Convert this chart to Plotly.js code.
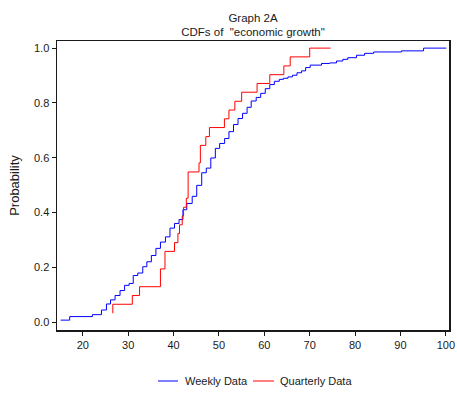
<!DOCTYPE html>
<html>
<head>
<meta charset="utf-8">
<script src="https://cdn.plot.ly/plotly-3.0.1.min.js"></script>
<style>html,body{margin:0;padding:0;background:#fff;}#chart{width:457px;height:394px;}</style>
</head>
<body>
<div id="chart"></div>
<script>
// Weekly data: empirical CDF step points (x = economic growth value, y = cumulative probability)
var weeklyX = [15.1, 17.1, 22.1, 24.1, 25.2, 26.1, 27.1, 28.2, 29.2, 30.2, 31.1, 32.1, 33.2, 34.1, 35.1, 36.1, 37.1, 38.2, 39.2, 40.2, 41.2, 42.05, 42.9, 44.1, 45.1, 46.2, 47.2, 48.2, 49.2, 50.15, 51.25, 52.2, 53.2, 54.2, 55.2, 56.2, 57.1, 58.2, 59.2, 60.2, 61.2, 62.2, 63.3, 64.2, 65.2, 66.2, 67.2, 68.2, 69.1, 70.1, 72.6, 74.4, 75.9, 77.3, 78.4, 80.3, 82.1, 84.1, 90.2, 95.1, 100.1];
var weeklyY = [0.007, 0.020, 0.027, 0.044, 0.066, 0.081, 0.097, 0.115, 0.134, 0.141, 0.170, 0.179, 0.202, 0.220, 0.243, 0.269, 0.292, 0.311, 0.343, 0.360, 0.374, 0.410, 0.433, 0.459, 0.499, 0.545, 0.562, 0.599, 0.634, 0.652, 0.670, 0.695, 0.721, 0.743, 0.762, 0.784, 0.807, 0.820, 0.835, 0.852, 0.867, 0.879, 0.886, 0.890, 0.895, 0.901, 0.910, 0.917, 0.929, 0.938, 0.944, 0.946, 0.953, 0.959, 0.965, 0.974, 0.981, 0.986, 0.990, 1.000, 1.000];

// Quarterly data: empirical CDF step points
var quarterlyX = [26.6, 26.6, 30.9, 32.5, 37.1, 38.1, 40.2, 40.95, 41.3, 41.9, 42.2, 42.8, 43.2, 45.6, 45.9, 47.1, 47.9, 51.2, 52.2, 53.5, 55.0, 58.4, 61.2, 64.3, 65.7, 70.0, 74.6];
var quarterlyY = [0.032, 0.065, 0.097, 0.129, 0.194, 0.258, 0.290, 0.323, 0.355, 0.387, 0.419, 0.452, 0.548, 0.581, 0.645, 0.677, 0.710, 0.742, 0.774, 0.806, 0.839, 0.871, 0.903, 0.935, 0.968, 1.000, 1.000];

var seriesNames = ['Weekly Data', 'Quarterly Data'];
var seriesColors = ['#0000ff', '#ff0000'];
var xTicks = [20, 30, 40, 50, 60, 70, 80, 90, 100];
var yTicks = [0.0, 0.2, 0.4, 0.6, 0.8, 1.0];

var traces = [
  {x: weeklyX, y: weeklyY, name: seriesNames[0], type: 'scatter', mode: 'lines',
   line: {color: seriesColors[0], width: 1, shape: 'hv'}},
  {x: quarterlyX, y: quarterlyY, name: seriesNames[1], type: 'scatter', mode: 'lines',
   line: {color: seriesColors[1], width: 1, shape: 'hv'}}
];

var font = 'Liberation Sans, Arial, sans-serif';
var ink = '#1a1a1a';

// Legend drawn below the plot (short line samples, as in the original)
var legendY = -0.1765;
var legendItems = [
  {x0: 0.2577, x1: 0.3087, tx: 0.3214},
  {x0: 0.5000, x1: 0.5536, tx: 0.5638}
];
var shapes = [], annotations = [];
legendItems.forEach(function(it, i) {
  shapes.push({type: 'line', xref: 'paper', yref: 'paper', x0: it.x0, x1: it.x1, y0: legendY, y1: legendY,
               line: {color: seriesColors[i], width: 1}});
  annotations.push({xref: 'paper', yref: 'paper', x: it.tx, y: legendY, xanchor: 'left', yanchor: 'middle',
                    text: seriesNames[i], showarrow: false, font: {family: font, size: 11, color: ink}});
});

var layout = {
  width: 457, height: 394,
  margin: {l: 57, r: 8, t: 41, b: 64, autoexpand: false},
  paper_bgcolor: '#ffffff', plot_bgcolor: '#ffffff',
  font: {family: font, size: 12, color: ink},
  title: {text: 'Graph 2A<br>CDFs of  "economic growth"', x: 0.5, xref: 'paper',
          y: 0.9454, yref: 'container', yanchor: 'middle', font: {family: font, size: 11.5, color: ink}},
  xaxis: {range: [14.3, 100.7], tickvals: xTicks, ticktext: xTicks.map(String),
          ticks: 'outside', ticklen: 4, tickwidth: 1, tickcolor: ink,
          showline: true, linecolor: ink, linewidth: 1.5, mirror: true,
          showgrid: false, zeroline: false, tickfont: {size: 11}},
  yaxis: {range: [-0.029, 1.026], tickvals: yTicks, ticktext: yTicks.map(function(v){return v.toFixed(1);}),
          ticks: 'outside', ticklen: 4, tickwidth: 1, tickcolor: ink,
          showline: true, linecolor: ink, linewidth: 1.5, mirror: true,
          showgrid: false, zeroline: false, tickfont: {size: 11},
          title: {text: 'Probability', font: {size: 13}, standoff: 11}},
  showlegend: false,
  shapes: shapes,
  annotations: annotations
};

Plotly.newPlot('chart', traces, layout, {displayModeBar: false, staticPlot: true});
</script>
</body>
</html>
